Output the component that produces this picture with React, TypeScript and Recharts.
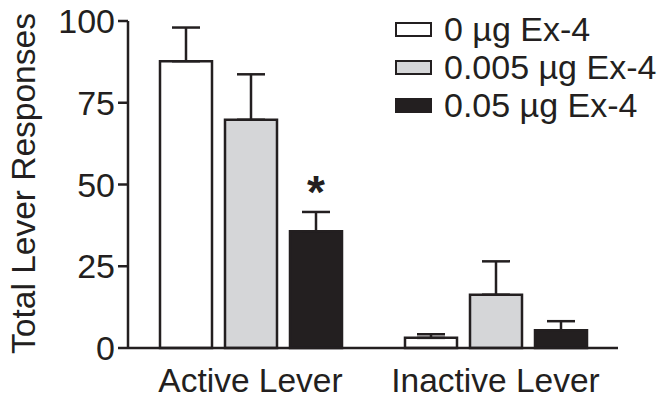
import React from "react";
import { BarChart, Bar, XAxis, YAxis, ErrorBar, Legend, LabelList } from "recharts";

const categories = ["Active Lever", "Inactive Lever"];
const doseLabels = ["0 µg Ex-4", "0.005 µg Ex-4", "0.05 µg Ex-4"];
const dose0 = [87.7, 3.1];
const dose0Err = [10.3, 1.1];
const dose005 = [69.8, 16.3];
const dose005Err = [13.9, 10.2];
const dose05 = [35.7, 5.4];
const dose05Err = [5.9, 2.8];
const significance = ["*", ""];
const yTicks = [0, 25, 50, 75, 100];

const ink = "#231f20";
const fills = ["#ffffff", "#d5d6d8", ink];
const font = "'Liberation Sans', Arial, Helvetica, sans-serif";

// upper-only error bars: [below, above]
const data = categories.map((name, i) => ({
  name,
  d0: dose0[i],
  d0Err: [0, dose0Err[i]],
  d005: dose005[i],
  d005Err: [0, dose005Err[i]],
  d05: dose05[i],
  d05Err: [0, dose05Err[i]],
  sig: significance[i]
}));

const LegendBox = () => (
  <div style={{ fontFamily: font, fontSize: 34, color: ink, lineHeight: 1 }}>
    {doseLabels.map((label, i) => (
      <div key={label} style={{ display: "flex", alignItems: "center", height: 38 }}>
        <span
          style={{
            display: "inline-block",
            boxSizing: "border-box",
            width: 37,
            height: 15,
            border: `2.5px solid ${ink}`,
            background: fills[i],
            marginRight: 12
          }}
        />
        <span>{label}</span>
      </div>
    ))}
  </div>
);

const YLabel = (props: any) => {
  const { viewBox } = props;
  const cy = viewBox.y + viewBox.height / 2 - 1;
  const x = 35;
  return (
    <text
      x={x}
      y={cy}
      transform={`rotate(-90, ${x}, ${cy})`}
      textAnchor="middle"
      fontFamily={font}
      fontSize={33.5}
      fill={ink}
    >
      Total Lever Responses
    </text>
  );
};

const SigMark = (props: any) => {
  const { x, y, width, height, value, index } = props;
  if (!value) return null;
  const v = dose05[index];
  const err = dose05Err[index];
  const errTop = y - (err * height) / v;
  return (
    <text
      x={x + width / 2}
      y={errTop - 4}
      textAnchor="middle"
      fontFamily={font}
      fontWeight="bold"
      fontSize={46}
      fill={ink}
    >
      {value}
    </text>
  );
};

export default function App() {
  return (
    <div style={{ position: "absolute", left: 0, top: 0, background: "#fff" }}>
      <BarChart
        width={667}
        height={399}
        data={data}
        margin={{ top: 21, right: 49, bottom: 0, left: 0 }}
        barSize={52}
        barGap={13}
      >
        <XAxis
          dataKey="name"
          axisLine={{ stroke: ink, strokeWidth: 2.5 }}
          tickLine={false}
          tickSize={8}
          tickMargin={12}
          height={51}
          tick={{ fill: ink, fontSize: 33.5, fontFamily: font }}
        />
        <YAxis
          domain={[0, 100]}
          ticks={yTicks}
          width={128}
          axisLine={{ stroke: ink, strokeWidth: 2.5 }}
          tickLine={{ stroke: ink, strokeWidth: 2.5 }}
          tickSize={10}
          tickMargin={3}
          tick={{ fill: ink, fontSize: 34, fontFamily: font }}
          label={{ content: <YLabel /> }}
        />
        <Legend
          layout="vertical"
          align="center"
          verticalAlign="middle"
          content={<LegendBox />}
          wrapperStyle={{ left: 395, top: 10, width: 272 }}
        />
        <Bar dataKey="d0" name={doseLabels[0]} fill={fills[0]} stroke={ink} strokeWidth={2.5} isAnimationActive={false}>
          <ErrorBar dataKey="d0Err" width={14} stroke={ink} strokeWidth={2.5} direction="y" />
        </Bar>
        <Bar dataKey="d005" name={doseLabels[1]} fill={fills[1]} stroke={ink} strokeWidth={2.5} isAnimationActive={false}>
          <ErrorBar dataKey="d005Err" width={14} stroke={ink} strokeWidth={2.5} direction="y" />
        </Bar>
        <Bar dataKey="d05" name={doseLabels[2]} fill={fills[2]} stroke={ink} strokeWidth={2.5} isAnimationActive={false}>
          <ErrorBar dataKey="d05Err" width={14} stroke={ink} strokeWidth={2.5} direction="y" />
          <LabelList dataKey="sig" content={<SigMark />} />
        </Bar>
      </BarChart>
    </div>
  );
}
